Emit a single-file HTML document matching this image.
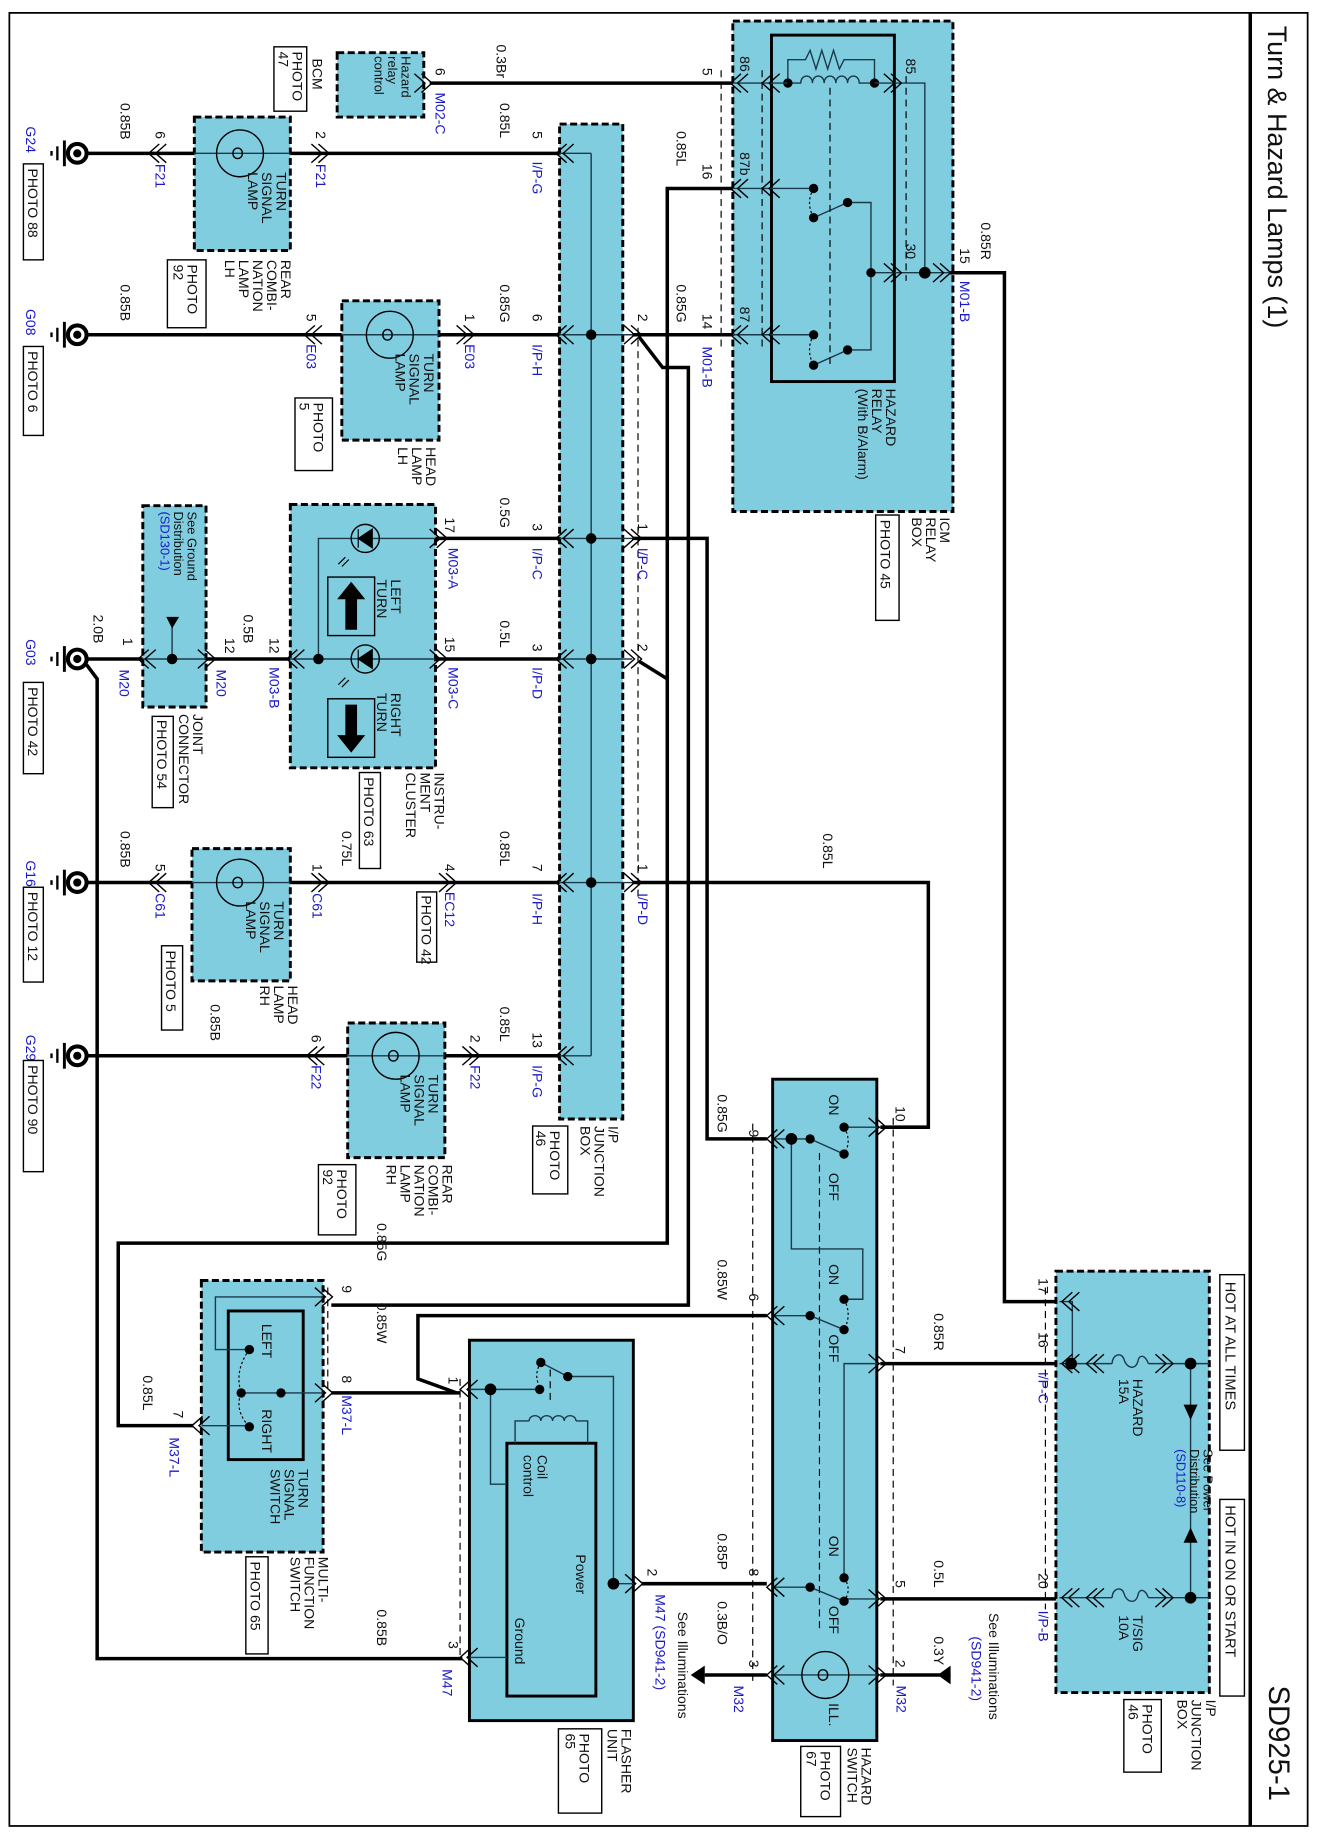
<!DOCTYPE html>
<html><head><meta charset="utf-8">
<style>
html,body{margin:0;padding:0;background:#fff;}
svg{display:block;}
text{font-family:"Liberation Sans",Arial,sans-serif;font-size:12px;fill:#111;}
.b{fill:#1a1ac8;}
.w{stroke:#000;stroke-width:3;fill:none;}
.t{stroke:#1a3a4a;stroke-width:1.2;fill:none;}
.d{stroke:#000;stroke-width:1;fill:none;stroke-dasharray:6 4;}
.db{fill:#80cde0;stroke:#000;stroke-width:2.5;stroke-dasharray:6 3;}
.sb{fill:#80cde0;stroke:#000;stroke-width:2.5;}
.ib{fill:none;stroke:#000;stroke-width:2.5;}
.pb{fill:#fff;stroke:#000;stroke-width:1.2;}
.ch{stroke:#000;stroke-width:1.2;fill:none;}
</style></head><body>
<svg width="1317" height="1833" viewBox="0 0 1125 1566" preserveAspectRatio="none" xmlns="http://www.w3.org/2000/svg">
<defs>
<path id="cl" d="M9,-8 L0,0 L9,8 M15,-8 L6,0 L15,8" class="ch"/>
<path id="cr" d="M-9,-8 L0,0 L-9,8 M-15,-8 L-6,0 L-15,8" class="ch"/>
<g id="gnd"><circle cx="0" cy="0" r="8" fill="#fff" stroke="#000" stroke-width="3.5"/><circle cx="0" cy="0" r="3.5" fill="#000"/><line x1="-11" y1="-11" x2="-11" y2="11" stroke="#000" stroke-width="2.5"/><line x1="-17" y1="-6" x2="-17" y2="6" stroke="#000" stroke-width="2"/><line x1="-22" y1="-2" x2="-22" y2="2" stroke="#000" stroke-width="2"/></g>
<g id="lamp"><circle cx="0" cy="0" r="20" fill="none" stroke="#000" stroke-width="1.2"/><path d="M-6,0 C-6,-6 2,-6 2,0 C2,6 -6,6 -6,0" fill="none" stroke="#000" stroke-width="1.2"/></g>
</defs>

<rect x="8" y="11" width="1109" height="1549" fill="none" stroke="#000" stroke-width="1.5"/>
<line x1="1068" y1="11" x2="1068" y2="1560" stroke="#000" stroke-width="3"/>
<text transform="translate(1083 22) rotate(90)" style="font-size:23px">Turn &amp; Hazard Lamps (1)</text>
<text transform="translate(1084 1440) rotate(90)" style="font-size:25px">SD925-1</text>

<!-- ICM relay box -->
<rect x="626" y="18" width="188" height="419" class="db"/>
<rect x="659" y="30" width="105" height="296" class="ib"/>
<path d="M673,71 V51 H688 l4,-8 l5,16 l5,-16 l5,16 l5,-16 l5,16 l4,-8 H747 V71" class="t"/>
<path d="M673,71 H684 c0,-8 10,-8 10,0 c0,-8 10,-8 10,0 c0,-8 10,-8 10,0 c0,-8 10,-8 10,0 c0,-8 10,-8 10,0 H747" class="t"/>
<circle cx="673" cy="71" r="4"/><circle cx="747" cy="71" r="4"/>
<path d="M626,71 H673 M747,71 H790 V233 M744,233 H811" class="t"/>
<path d="M626,161 H695 M626,286 H695 M724,173 H744 V299 H724" class="t"/>
<line x1="695" y1="186" x2="724" y2="173" class="t"/><line x1="695" y1="312" x2="724" y2="299" class="t"/>
<path d="M695,161 Q688,173 695,186 M695,286 Q688,299 695,312" stroke="#000" stroke-dasharray="2 2" fill="none"/>
<circle cx="695" cy="161" r="4"/><circle cx="695" cy="186" r="4"/><circle cx="724" cy="173" r="4"/>
<circle cx="695" cy="286" r="4"/><circle cx="695" cy="312" r="4"/><circle cx="724" cy="299" r="4"/>
<circle cx="744" cy="233" r="4"/><circle cx="790" cy="233" r="5"/>
<line x1="709" y1="75" x2="709" y2="312" class="d" stroke="#1a3a4a"/>
<line x1="651" y1="60" x2="651" y2="300" class="d"/>
<line x1="616" y1="60" x2="616" y2="300" class="d"/>
<line x1="774" y1="65" x2="774" y2="240" class="d"/>
<use href="#cl" x="624" y="71"/><use href="#cl" x="651" y="71"/>
<use href="#cl" x="624" y="161"/><use href="#cl" x="651" y="161"/>
<use href="#cl" x="624" y="286"/><use href="#cl" x="651" y="286"/>
<use href="#cr" x="770" y="71"/><use href="#cr" x="770" y="233"/><use href="#cr" x="812" y="233"/>
<text transform="translate(632 48) rotate(90)">86</text>
<text transform="translate(632 130) rotate(90)">87b</text>
<text transform="translate(632 262) rotate(90)">87</text>
<text transform="translate(774 50) rotate(90)">85</text>
<text transform="translate(774 208) rotate(90)">30</text>
<text transform="translate(757 332) rotate(90)"><tspan x="0" dy="0">HAZARD</tspan><tspan x="0" dy="1.0em">RELAY</tspan><tspan x="0" dy="1.0em">(With B/Alarm)</tspan></text>
<text transform="translate(803 442) rotate(90)"><tspan x="0">ICM</tspan><tspan x="0" dy="1.0em">RELAY</tspan><tspan x="0" dy="1.0em">BOX</tspan></text>
<rect x="748" y="440" width="20" height="90" class="pb"/>
<text transform="translate(752 444) rotate(90)">PHOTO 45</text>

<path d="M367,71 H626" class="w"/>
<text transform="translate(424 38) rotate(90)">0.3Br</text>
<text transform="translate(600 58) rotate(90)">5</text>
<path d="M626,161 H570 V1062 H101 V1218 H165" class="w"/>
<text transform="translate(578 112) rotate(90)">0.85L</text>
<text transform="translate(600 140) rotate(90)">16</text>
<path d="M540,286 H626" class="w"/>
<path d="M546,288 L566,314 H588 V1115 H283" class="w"/>
<text transform="translate(578 243) rotate(90)">0.85G</text>
<text transform="translate(600 268) rotate(90)">14</text>
<text class="b" transform="translate(600 296) rotate(90)">M01-B</text>
<path d="M811,233 H858 V1112 H905" class="w"/>
<text transform="translate(838 190) rotate(90)">0.85R</text>
<text transform="translate(820 212) rotate(90)">15</text>
<text class="b" transform="translate(820 240) rotate(90)">M01-B</text>

<!-- BCM -->
<rect x="288" y="45" width="74" height="55" class="db"/>
<text transform="translate(343 48) rotate(90)" style="font-size:11px"><tspan x="0">Hazard</tspan><tspan x="0" dy="1.05em">relay</tspan><tspan x="0" dy="1.05em">control</tspan></text>
<use href="#cr" x="369" y="71"/>
<text transform="translate(372 58) rotate(90)">6</text>
<text class="b" transform="translate(372 79) rotate(90)">M02-C</text>
<text transform="translate(267 50) rotate(90)">BCM</text>
<rect x="234" y="40" width="28" height="55" class="pb"/>
<text transform="translate(250 44) rotate(90)"><tspan x="0">PHOTO</tspan><tspan x="0" dy="1em">47</tspan></text>

<!-- I/P junction box center -->
<rect x="478" y="106" width="54" height="850" class="db"/>
<line x1="505" y1="131" x2="505" y2="902" class="t"/>
<path d="M478,131 H505 M478,902 H505" class="t"/>
<path d="M478,286 H540 M478,460 H540 M478,563 H540 M478,754 H540" class="t"/>
<circle cx="505" cy="286" r="4.5"/><circle cx="505" cy="460" r="4.5"/><circle cx="505" cy="563" r="4.5"/><circle cx="505" cy="754" r="4.5"/>
<line x1="545" y1="280" x2="545" y2="770" class="d"/>
<text transform="translate(520 962) rotate(90)"><tspan x="0">I/P</tspan><tspan x="0" dy="1.0em">JUNCTION</tspan><tspan x="0" dy="1.0em">BOX</tspan></text>
<rect x="455" y="962" width="30" height="58" class="pb"/>
<text transform="translate(470 966) rotate(90)"><tspan x="0">PHOTO</tspan><tspan x="0" dy="1em">46</tspan></text>

<!-- Row 131 G24 -->
<use href="#gnd" x="66" y="131"/>
<path d="M74,131 H166 M248,131 H478" class="w"/>
<rect x="166" y="100" width="82" height="114" class="db"/>
<line x1="166" y1="131" x2="248" y2="131" class="t"/>
<use href="#lamp" x="205" y="131"/>
<text transform="translate(236 147) rotate(90)"><tspan x="0">TURN</tspan><tspan x="0" dy="1.0em">SIGNAL</tspan><tspan x="0" dy="1.0em">LAMP</tspan></text>
<use href="#cl" x="127" y="131"/><use href="#cr" x="281" y="131"/><use href="#cl" x="475" y="131"/>
<text transform="translate(103 88) rotate(90)">0.85B</text>
<text transform="translate(133 112) rotate(90)">6</text>
<text class="b" transform="translate(133 140) rotate(90)">F21</text>
<text transform="translate(270 112) rotate(90)">2</text>
<text class="b" transform="translate(270 140) rotate(90)">F21</text>
<text transform="translate(427 88) rotate(90)">0.85L</text>
<text transform="translate(455 112) rotate(90)">5</text>
<text class="b" transform="translate(455 138) rotate(90)">I/P-G</text>
<text class="b" transform="translate(22 108) rotate(90)">G24</text>
<rect x="20" y="140" width="17" height="82" class="pb"/>
<text transform="translate(24 144) rotate(90)">PHOTO 88</text>
<text transform="translate(240 222) rotate(90)"><tspan x="0">REAR</tspan><tspan x="0" dy="1.0em">COMBI-</tspan><tspan x="0" dy="1.0em">NATION</tspan><tspan x="0" dy="1.0em">LAMP</tspan><tspan x="0" dy="1.0em">LH</tspan></text>
<rect x="143" y="222" width="33" height="58" class="pb"/>
<text transform="translate(160 226) rotate(90)"><tspan x="0">PHOTO</tspan><tspan x="0" dy="1em">92</tspan></text>

<!-- Row 286 G08 -->
<use href="#gnd" x="66" y="286"/>
<path d="M74,286 H292 M375,286 H478" class="w"/>
<rect x="292" y="257" width="83" height="119" class="db"/>
<line x1="292" y1="286" x2="375" y2="286" class="t"/>
<use href="#lamp" x="333" y="286"/>
<text transform="translate(362 302) rotate(90)"><tspan x="0">TURN</tspan><tspan x="0" dy="1.0em">SIGNAL</tspan><tspan x="0" dy="1.0em">LAMP</tspan></text>
<use href="#cl" x="260" y="286"/><use href="#cr" x="405" y="286"/><use href="#cl" x="475" y="286"/><use href="#cr" x="548" y="286"/>
<text transform="translate(103 243) rotate(90)">0.85B</text>
<text transform="translate(262 268) rotate(90)">5</text>
<text class="b" transform="translate(262 294) rotate(90)">E03</text>
<text transform="translate(397 268) rotate(90)">1</text>
<text class="b" transform="translate(397 294) rotate(90)">E03</text>
<text transform="translate(427 243) rotate(90)">0.85G</text>
<text transform="translate(455 268) rotate(90)">6</text>
<text class="b" transform="translate(455 294) rotate(90)">I/P-H</text>
<text transform="translate(545 268) rotate(90)">2</text>
<text class="b" transform="translate(22 264) rotate(90)">G08</text>
<rect x="20" y="296" width="17" height="76" class="pb"/>
<text transform="translate(24 300) rotate(90)">PHOTO 6</text>
<text transform="translate(364 382) rotate(90)"><tspan x="0">HEAD</tspan><tspan x="0" dy="1.0em">LAMP</tspan><tspan x="0" dy="1.0em">LH</tspan></text>
<rect x="252" y="340" width="32" height="62" class="pb"/>
<text transform="translate(268 344) rotate(90)"><tspan x="0">PHOTO</tspan><tspan x="0" dy="1em">5</tspan></text>

<!-- Instrument cluster -->
<rect x="248" y="431" width="124" height="225" class="db"/>
<path d="M372,460 H272 V563 M248,563 H372" class="t"/>
<circle cx="272" cy="563" r="4.5"/>
<g><circle cx="312" cy="460" r="12" fill="none" stroke="#000" stroke-width="1.2"/><path d="M306,452 V468 M306,460 L318,452 L318,468 Z" fill="#000" stroke="#000"/></g>
<g><circle cx="312" cy="563" r="12" fill="none" stroke="#000" stroke-width="1.2"/><path d="M306,555 V571 M306,563 L318,555 L318,571 Z" fill="#000" stroke="#000"/></g>
<path d="M298,478 l-6,6 m3,-8 l-6,6 M298,581 l-6,6 m3,-8 l-6,6" stroke="#000" fill="none"/>
<rect x="280" y="493" width="40" height="50" fill="none" stroke="#000" stroke-width="1.2"/>
<path d="M300,497 L312,512 H305 V538 H295 V512 H288 Z" fill="#000"/>
<rect x="280" y="597" width="40" height="50" fill="none" stroke="#000" stroke-width="1.2"/>
<path d="M300,643 L312,628 H305 V602 H295 V628 H288 Z" fill="#000"/>
<text transform="translate(334 495) rotate(90)"><tspan x="0">LEFT</tspan><tspan x="0" dy="1.0em">TURN</tspan></text>
<text transform="translate(334 592) rotate(90)"><tspan x="0">RIGHT</tspan><tspan x="0" dy="1.0em">TURN</tspan></text>
<path d="M372,460 H478 M372,563 H478" class="w"/>
<use href="#cr" x="382" y="460"/><use href="#cr" x="382" y="563"/><use href="#cl" x="245" y="563"/>
<use href="#cl" x="475" y="460"/><use href="#cl" x="475" y="563"/><use href="#cr" x="548" y="460"/><use href="#cr" x="548" y="563"/>
<text transform="translate(380 442) rotate(90)">17</text>
<text class="b" transform="translate(383 468) rotate(90)">M03-A</text>
<text transform="translate(427 425) rotate(90)">0.5G</text>
<text transform="translate(455 447) rotate(90)">3</text>
<text class="b" transform="translate(455 468) rotate(90)">I/P-C</text>
<text transform="translate(545 447) rotate(90)">1</text>
<text class="b" transform="translate(545 468) rotate(90)">I/P-C</text>
<text transform="translate(380 544) rotate(90)">15</text>
<text class="b" transform="translate(383 570) rotate(90)">M03-C</text>
<text transform="translate(427 530) rotate(90)">0.5L</text>
<text transform="translate(455 550) rotate(90)">3</text>
<text class="b" transform="translate(455 570) rotate(90)">I/P-D</text>
<text transform="translate(545 550) rotate(90)">2</text>
<path d="M540,460 H604 V973 H655" class="w"/>
<path d="M546,565 L570,580" class="w"/>
<text transform="translate(371 660) rotate(90)"><tspan x="0">INSTRU-</tspan><tspan x="0" dy="1.0em">MENT</tspan><tspan x="0" dy="1.0em">CLUSTER</tspan></text>
<rect x="307" y="660" width="18" height="82" class="pb"/>
<text transform="translate(311 664) rotate(90)">PHOTO 63</text>

<!-- Joint connector / G03 -->
<rect x="122" y="432" width="54" height="172" class="db"/>
<path d="M122,563 H176 M147,530 V563" class="t"/>
<path d="M142,527 H153 L147,537 Z" fill="#000"/>
<circle cx="147" cy="563" r="4.5"/>
<text transform="translate(160 437) rotate(90)" style="font-size:11px"><tspan x="0">See Ground</tspan><tspan x="0" dy="1.05em">Distribution</tspan><tspan x="0" dy="1.05em" class="b">(SD130-1)</tspan></text>
<use href="#gnd" x="66" y="563"/>
<path d="M74,563 H122 M176,563 H248" class="w"/>
<path d="M74,568 L83,580 V1417 H395" class="w"/>
<use href="#cl" x="118" y="563"/><use href="#cr" x="184" y="563"/>
<text transform="translate(80 525) rotate(90)">2.0B</text>
<text transform="translate(105 545) rotate(90)">1</text>
<text class="b" transform="translate(102 572) rotate(90)">M20</text>
<text transform="translate(208 525) rotate(90)">0.5B</text>
<text transform="translate(192 545) rotate(90)">12</text>
<text class="b" transform="translate(185 572) rotate(90)">M20</text>
<text transform="translate(230 545) rotate(90)">12</text>
<text class="b" transform="translate(230 570) rotate(90)">M03-B</text>
<text class="b" transform="translate(22 546) rotate(90)">G03</text>
<rect x="20" y="583" width="17" height="78" class="pb"/>
<text transform="translate(24 587) rotate(90)">PHOTO 42</text>
<text transform="translate(165 610) rotate(90)"><tspan x="0">JOINT</tspan><tspan x="0" dy="1.0em">CONNECTOR</tspan></text>
<rect x="130" y="612" width="18" height="78" class="pb"/>
<text transform="translate(134 615) rotate(90)">PHOTO 54</text>

<!-- Row 754 G16 -->
<use href="#gnd" x="66" y="754"/>
<path d="M74,754 H164 M248,754 H478 M540,754 H793 V963 H752" class="w"/>
<rect x="164" y="725" width="84" height="113" class="db"/>
<line x1="164" y1="754" x2="248" y2="754" class="t"/>
<use href="#lamp" x="205" y="754"/>
<text transform="translate(234 770) rotate(90)"><tspan x="0">TURN</tspan><tspan x="0" dy="1.0em">SIGNAL</tspan><tspan x="0" dy="1.0em">LAMP</tspan></text>
<use href="#cl" x="127" y="754"/><use href="#cr" x="281" y="754"/><use href="#cr" x="390" y="754"/><use href="#cl" x="475" y="754"/><use href="#cr" x="548" y="754"/>
<text transform="translate(103 710) rotate(90)">0.85B</text>
<text transform="translate(133 738) rotate(90)">5</text>
<text class="b" transform="translate(133 763) rotate(90)">C61</text>
<text transform="translate(267 738) rotate(90)">1</text>
<text class="b" transform="translate(267 763) rotate(90)">C61</text>
<text transform="translate(292 710) rotate(90)">0.75L</text>
<text transform="translate(380 738) rotate(90)">4</text>
<text class="b" transform="translate(380 762) rotate(90)">EC12</text>
<rect x="356" y="762" width="17" height="60" class="pb"/>
<text transform="translate(360 765) rotate(90)">PHOTO 42</text>
<text transform="translate(427 710) rotate(90)">0.85L</text>
<text transform="translate(455 738) rotate(90)">7</text>
<text class="b" transform="translate(455 763) rotate(90)">I/P-H</text>
<text transform="translate(545 738) rotate(90)">1</text>
<text class="b" transform="translate(545 763) rotate(90)">I/P-D</text>
<text transform="translate(703 712) rotate(90)">0.85L</text>
<text class="b" transform="translate(22 735) rotate(90)">G16</text>
<rect x="20" y="758" width="17" height="81" class="pb"/>
<text transform="translate(24 762) rotate(90)">PHOTO 12</text>
<text transform="translate(246 842) rotate(90)"><tspan x="0">HEAD</tspan><tspan x="0" dy="1.0em">LAMP</tspan><tspan x="0" dy="1.0em">RH</tspan></text>
<rect x="138" y="808" width="18" height="72" class="pb"/>
<text transform="translate(142 812) rotate(90)">PHOTO 5</text>
<text transform="translate(180 858) rotate(90)">0.85B</text>

<!-- Row 902 G29 -->
<use href="#gnd" x="66" y="902"/>
<path d="M74,902 H297 M380,902 H478" class="w"/>
<rect x="297" y="874" width="83" height="115" class="db"/>
<line x1="297" y1="902" x2="380" y2="902" class="t"/>
<use href="#lamp" x="338" y="902"/>
<text transform="translate(366 918) rotate(90)"><tspan x="0">TURN</tspan><tspan x="0" dy="1.0em">SIGNAL</tspan><tspan x="0" dy="1.0em">LAMP</tspan></text>
<use href="#cl" x="262" y="902"/><use href="#cr" x="410" y="902"/><use href="#cl" x="475" y="902"/>
<text transform="translate(266 884) rotate(90)">6</text>
<text class="b" transform="translate(266 910) rotate(90)">F22</text>
<text transform="translate(402 884) rotate(90)">2</text>
<text class="b" transform="translate(402 910) rotate(90)">F22</text>
<text transform="translate(427 860) rotate(90)">0.85L</text>
<text transform="translate(455 882) rotate(90)">13</text>
<text class="b" transform="translate(455 910) rotate(90)">I/P-G</text>
<text class="b" transform="translate(22 884) rotate(90)">G29</text>
<rect x="20" y="906" width="17" height="95" class="pb"/>
<text transform="translate(24 910) rotate(90)">PHOTO 90</text>
<text transform="translate(378 995) rotate(90)"><tspan x="0">REAR</tspan><tspan x="0" dy="1.0em">COMBI-</tspan><tspan x="0" dy="1.0em">NATION</tspan><tspan x="0" dy="1.0em">LAMP</tspan><tspan x="0" dy="1.0em">RH</tspan></text>
<rect x="272" y="995" width="32" height="60" class="pb"/>
<text transform="translate(288 999) rotate(90)"><tspan x="0">PHOTO</tspan><tspan x="0" dy="1em">92</tspan></text>

<!-- Hazard switch -->
<rect x="660" y="922" width="89" height="565" class="sb"/>
<line x1="643" y1="960" x2="643" y2="1440" class="d"/>
<line x1="763" y1="955" x2="763" y2="1440" class="d"/>
<line x1="700" y1="985" x2="700" y2="1395" class="d"/>
<path d="M660,973 H692 M676,973 V1067 H737 V1110 H721 M752,963 H721" class="t"/>
<line x1="692" y1="973" x2="721" y2="986" class="t"/>
<path d="M721,963 Q728,975 721,986" stroke="#000" stroke-dasharray="2 2" fill="none"/>
<circle cx="676" cy="973" r="5"/><circle cx="692" cy="973" r="4"/><circle cx="721" cy="963" r="4"/><circle cx="721" cy="986" r="4"/>
<path d="M660,1124 H692 M752,1165 H721 V1348" class="t"/>
<line x1="692" y1="1124" x2="721" y2="1136" class="t"/>
<path d="M721,1110 Q728,1123 721,1136" stroke="#000" stroke-dasharray="2 2" fill="none"/>
<circle cx="692" cy="1124" r="4"/><circle cx="721" cy="1110" r="4"/><circle cx="721" cy="1136" r="4"/>
<path d="M660,1356 H692 M752,1366 H721" class="t"/>
<line x1="692" y1="1356" x2="721" y2="1368" class="t"/>
<path d="M721,1348 Q728,1358 721,1368" stroke="#000" stroke-dasharray="2 2" fill="none"/>
<circle cx="692" cy="1356" r="4"/><circle cx="721" cy="1348" r="4"/><circle cx="721" cy="1368" r="4"/>
<path d="M660,1431 H752" class="t"/>
<use href="#lamp" x="705" y="1431"/>
<text transform="translate(708 935) rotate(90)">ON</text>
<text transform="translate(708 1002) rotate(90)">OFF</text>
<text transform="translate(708 1080) rotate(90)">ON</text>
<text transform="translate(708 1140) rotate(90)">OFF</text>
<text transform="translate(708 1312) rotate(90)">ON</text>
<text transform="translate(708 1372) rotate(90)">OFF</text>
<text transform="translate(708 1455) rotate(90)">ILL.</text>
<use href="#cl" x="655" y="973"/><use href="#cl" x="655" y="1124"/><use href="#cl" x="655" y="1356"/><use href="#cl" x="655" y="1431"/>
<use href="#cr" x="757" y="963"/><use href="#cr" x="757" y="1165"/><use href="#cr" x="757" y="1366"/><use href="#cr" x="757" y="1431"/>
<text transform="translate(613 935) rotate(90)">0.85G</text>
<text transform="translate(640 965) rotate(90)">9</text>
<text transform="translate(765 945) rotate(90)">10</text>
<text transform="translate(613 1076) rotate(90)">0.85W</text>
<text transform="translate(640 1105) rotate(90)">6</text>
<text transform="translate(765 1150) rotate(90)">7</text>
<text transform="translate(798 1122) rotate(90)">0.85R</text>
<text transform="translate(613 1310) rotate(90)">0.85P</text>
<text transform="translate(640 1340) rotate(90)">8</text>
<text transform="translate(765 1350) rotate(90)">5</text>
<text transform="translate(798 1333) rotate(90)">0.5L</text>
<text transform="translate(613 1368) rotate(90)">0.3B/O</text>
<text transform="translate(640 1418) rotate(90)">3</text>
<text class="b" transform="translate(627 1440) rotate(90)">M32</text>
<text transform="translate(765 1418) rotate(90)">2</text>
<text class="b" transform="translate(766 1440) rotate(90)">M32</text>
<text transform="translate(798 1398) rotate(90)">0.3Y</text>
<path d="M655,1431 H602" class="w"/><path d="M602,1423 V1439 L590,1431 Z" fill="#000"/>
<path d="M752,1431 H812" class="w"/><path d="M812,1423 V1439 L801,1431 Z" fill="#000"/>
<text transform="translate(845 1378) rotate(90)">See Illuminations</text>
<text class="b" transform="translate(830 1398) rotate(90)">(SD941-2)</text>
<text transform="translate(579 1377) rotate(90)">See Illuminations</text>
<text class="b" transform="translate(560 1362) rotate(90)">M47  (SD941-2)</text>
<text transform="translate(736 1493) rotate(90)"><tspan x="0">HAZARD</tspan><tspan x="0" dy="1.0em">SWITCH</tspan></text>
<rect x="684" y="1492" width="34" height="60" class="pb"/>
<text transform="translate(701 1496) rotate(90)"><tspan x="0">PHOTO</tspan><tspan x="0" dy="1em">67</tspan></text>

<path d="M655,1124 H357 V1178 L390,1190" class="w"/>
<path d="M752,1165 H905 M752,1366 H905" class="w"/>
<path d="M548,1353 H655" class="w"/>

<!-- I/P JB right -->
<rect x="902" y="1086" width="131" height="360" class="db"/>
<line x1="893" y1="1100" x2="893" y2="1375" class="d"/>
<path d="M905,1112 H916 V1165 M905,1165 H950 M981,1165 H1033 M905,1365 H950 M981,1365 H1033 M1017,1165 V1365" class="t"/>
<path d="M950,1165 c0,-8 8,-10 10,-4 c2,8 10,10 12,2 c1,-6 6,-6 9,2" class="t"/>
<path d="M950,1365 c0,-8 8,-10 10,-4 c2,8 10,10 12,2 c1,-6 6,-6 9,2" class="t"/>
<circle cx="915" cy="1165" r="5"/><circle cx="1017" cy="1165" r="5"/><circle cx="1017" cy="1365" r="5"/>
<path d="M1011,1200 H1023 L1017,1213 Z M1011,1318 H1023 L1017,1305 Z" fill="#000"/>
<use href="#cl" x="907" y="1112"/><use href="#cl" x="907" y="1165"/><use href="#cl" x="907" y="1365"/>
<use href="#cl" x="928" y="1165"/><use href="#cl" x="928" y="1365"/>
<use href="#cr" x="1002" y="1165"/><use href="#cr" x="1002" y="1365"/>
<text transform="translate(887 1092) rotate(90)">17</text>
<text transform="translate(887 1138) rotate(90)">16</text>
<text class="b" transform="translate(887 1172) rotate(90)">I/P-C</text>
<text transform="translate(887 1344) rotate(90)">20</text>
<text class="b" transform="translate(887 1376) rotate(90)">I/P-B</text>
<text transform="translate(968 1178) rotate(90)"><tspan x="0">HAZARD</tspan><tspan x="0" dy="1.0em">15A</tspan></text>
<text transform="translate(968 1380) rotate(90)"><tspan x="0">T/SIG</tspan><tspan x="0" dy="1.0em">10A</tspan></text>
<text transform="translate(1028 1238) rotate(90)" style="font-size:11px"><tspan x="0">See Power</tspan><tspan x="0" dy="1.05em">Distribution</tspan><tspan x="0" dy="1.05em" class="b">(SD110-8)</tspan></text>
<rect x="1042" y="1089" width="21" height="150" class="pb"/>
<text transform="translate(1047 1095) rotate(90)" style="font-size:12.5px">HOT AT ALL TIMES</text>
<rect x="1042" y="1281" width="21" height="168" class="pb"/>
<text transform="translate(1047 1286) rotate(90)" style="font-size:12.5px">HOT IN ON OR START</text>
<text transform="translate(1030 1452) rotate(90)"><tspan x="0">I/P</tspan><tspan x="0" dy="1.0em">JUNCTION</tspan><tspan x="0" dy="1.0em">BOX</tspan></text>
<rect x="960" y="1452" width="32" height="62" class="pb"/>
<text transform="translate(976 1456) rotate(90)"><tspan x="0">PHOTO</tspan><tspan x="0" dy="1em">46</tspan></text>

<!-- Flasher unit -->
<rect x="401" y="1145" width="140" height="325" class="sb"/>
<rect x="433" y="1233" width="76" height="216" class="ib"/>
<line x1="393" y1="1178" x2="393" y2="1418" class="d"/>
<path d="M401,1187 H461 M419,1187 V1268 H433 M485,1176 H524 V1353 H541 M401,1416 H433" class="t"/>
<line x1="462" y1="1164" x2="485" y2="1176" class="t"/>
<path d="M462,1164 Q455,1175 462,1187" stroke="#000" stroke-dasharray="2 2" fill="none"/>
<line x1="470" y1="1170" x2="470" y2="1200" class="d"/>
<path d="M440,1233 V1214 H452 M452,1214 c0,-6 10,-6 10,0 c0,-6 10,-6 10,0 c0,-6 10,-6 10,0 c0,-6 10,-6 10,0 M492,1214 H502 V1233" class="t"/>
<circle cx="419" cy="1187" r="5"/><circle cx="461" cy="1187" r="4"/><circle cx="462" cy="1164" r="4"/><circle cx="485" cy="1176" r="4"/><circle cx="524" cy="1353" r="5"/>
<text transform="translate(459 1243) rotate(90)"><tspan x="0">Coil</tspan><tspan x="0" dy="1.0em">control</tspan></text>
<text transform="translate(492 1328) rotate(90)">Power</text>
<text transform="translate(440 1382) rotate(90)">Ground</text>
<use href="#cl" x="393" y="1187"/><use href="#cr" x="549" y="1353"/><use href="#cl" x="393" y="1416"/>
<text transform="translate(383 1176) rotate(90)">1</text>
<text transform="translate(553 1340) rotate(90)">2</text>
<text transform="translate(383 1402) rotate(90)">3</text>
<text class="b" transform="translate(378 1426) rotate(90)">M47</text>
<text transform="translate(322 1375) rotate(90)">0.85B</text>
<text transform="translate(531 1477) rotate(90)"><tspan x="0">FLASHER</tspan><tspan x="0" dy="1.0em">UNIT</tspan></text>
<rect x="477" y="1477" width="37" height="72" class="pb"/>
<text transform="translate(495 1481) rotate(90)"><tspan x="0">PHOTO</tspan><tspan x="0" dy="1em">65</tspan></text>

<!-- Multi-function switch -->
<rect x="172" y="1094" width="104" height="232" class="db"/>
<rect x="195" y="1120" width="64" height="127" class="ib"/>
<line x1="280" y1="1100" x2="280" y2="1190" class="d"/>
<path d="M276,1108 H184 V1153 H213 M276,1190 H206 M172,1218 H213" class="t"/>
<path d="M213,1153 Q200,1171 206,1190 Q200,1205 213,1219" stroke="#000" stroke-dasharray="2 2" fill="none"/>
<circle cx="213" cy="1153" r="4"/><circle cx="206" cy="1190" r="4"/><circle cx="240" cy="1190" r="4"/><circle cx="213" cy="1219" r="4"/>
<text transform="translate(224 1131) rotate(90)">LEFT</text>
<text transform="translate(224 1204) rotate(90)">RIGHT</text>
<text transform="translate(255 1255) rotate(90)"><tspan x="0">TURN</tspan><tspan x="0" dy="1.0em">SIGNAL</tspan><tspan x="0" dy="1.0em">SWITCH</tspan></text>
<path d="M283,1190 H393" class="w"/>
<use href="#cr" x="284" y="1108"/><use href="#cr" x="284" y="1190"/><use href="#cl" x="164" y="1218"/>
<text transform="translate(322 1045) rotate(90)">0.85G</text>
<text transform="translate(292 1098) rotate(90)">9</text>
<text transform="translate(322 1113) rotate(90)">0.85W</text>
<text transform="translate(292 1175) rotate(90)">8</text>
<text class="b" transform="translate(292 1192) rotate(90)">M37-L</text>
<text transform="translate(148 1205) rotate(90)">7</text>
<text class="b" transform="translate(145 1228) rotate(90)">M37-L</text>
<text transform="translate(122 1175) rotate(90)">0.85L</text>
<text transform="translate(272 1330) rotate(90)"><tspan x="0">MULTI-</tspan><tspan x="0" dy="1.0em">FUNCTION</tspan><tspan x="0" dy="1.0em">SWITCH</tspan></text>
<rect x="210" y="1330" width="19" height="83" class="pb"/>
<text transform="translate(214 1334) rotate(90)">PHOTO 65</text>
</svg>
</body></html>
